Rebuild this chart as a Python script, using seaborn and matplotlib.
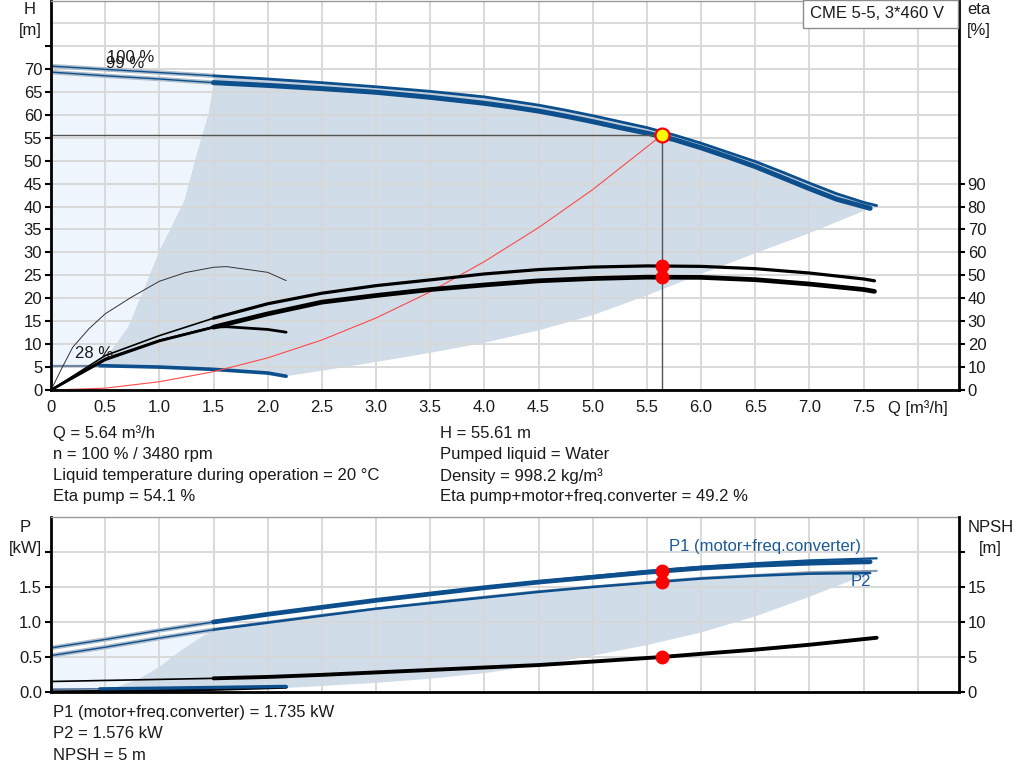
import numpy as np
import matplotlib
matplotlib.use("Agg")
import matplotlib.pyplot as plt
import matplotlib.patheffects as pe
from matplotlib.patches import Rectangle
import seaborn as sns

# ---------------- data ----------------
# Head curves, 100 % and 99 % speed
Q_H100 = [0, 0.5, 1.0, 1.5, 2.0, 2.5, 3.0, 3.5, 4.0, 4.25, 4.5, 4.75, 5.0, 5.25, 5.5, 5.75,
          6.0, 6.25, 6.5, 6.75, 7.0, 7.25, 7.5, 7.62]
H_100 = [70.6, 69.9, 69.2, 68.5, 67.8, 67.0, 66.1, 65.1, 63.9, 63.0, 62.1, 61.0, 59.8, 58.5,
         57.2, 55.6, 53.8, 51.8, 49.8, 47.5, 45.1, 42.8, 40.9, 40.2]
Q_H99 = [0, 0.5, 1.0, 1.5, 2.0, 2.5, 3.0, 3.5, 4.0, 4.25, 4.5, 4.75, 5.0, 5.25, 5.5, 5.75,
         6.0, 6.25, 6.5, 6.75, 7.0, 7.25, 7.56]
H_99 = [69.3, 68.5, 67.8, 67.0, 66.4, 65.7, 64.9, 63.8, 62.5, 61.7, 60.8, 59.7, 58.5, 57.2,
        56.0, 54.6, 52.8, 50.8, 48.7, 46.3, 43.9, 41.6, 39.6]
# Head curve at minimum speed (28 %)
Q_Hmin = [0, 0.45, 1.0, 1.5, 2.0, 2.17]
H_min = [5.3, 5.3, 5.0, 4.5, 3.7, 3.0]
# Efficiency curves [%]
Q_eta = [0, 0.5, 1.0, 1.5, 2.0, 2.5, 3.0, 3.5, 4.0, 4.5, 5.0, 5.5, 6.0, 6.5, 7.0, 7.5, 7.6]
eta_pump = [0, 15.0, 23.7, 31.3, 37.6, 42.2, 45.5, 48.0, 50.6, 52.5, 53.6, 54.1, 53.9, 52.9,
            51.0, 48.4, 47.6]
eta_total = [0, 13.6, 21.6, 27.4, 33.2, 38.3, 41.2, 43.8, 45.8, 47.6, 48.6, 49.2, 49.1, 48.1,
             46.2, 43.8, 43.0]
Q_eta_min = [0, 0.1, 0.2, 0.35, 0.5, 0.74, 1.0, 1.24, 1.5, 1.62, 2.0, 2.17]
eta_pump_min = [0, 9.5, 18.6, 26.7, 33.2, 40.4, 47.4, 51.2, 53.5, 53.8, 51.3, 47.7]
Q_etat_min = [0, 0.5, 1.0, 1.5, 1.62, 2.0, 2.17]
eta_total_min = [0, 13.2, 21.4, 27.4, 27.6, 26.4, 25.2]
# System curve
Q_sys = [0, 0.5, 1.0, 1.5, 2.0, 2.5, 3.0, 3.5, 4.0, 4.5, 5.0, 5.64]
H_sys = [0, 0.4, 1.8, 4.0, 7.0, 10.9, 15.7, 21.4, 28.0, 35.4, 43.7, 55.61]
# Operating range boundaries (upper chart)
Q_area_low = [2.17, 2.5, 3.0, 3.5, 4.0, 4.5, 5.0, 5.5, 6.0, 6.5, 7.0, 7.56]
H_area_low = [3.0, 4.2, 6.1, 8.1, 10.3, 13.0, 16.3, 20.6, 25.3, 29.8, 34.2, 39.6]
Q_area_left = [0.45, 0.58, 0.71, 0.875, 1.0, 1.12, 1.23, 1.35, 1.45, 1.5]
H_area_left = [5.3, 9.5, 13.7, 23.1, 30.4, 36.0, 41.4, 52.0, 60.0, 67.0]
# Power curves [kW]
Q_P = [0, 0.5, 1.0, 1.5, 2.0, 2.5, 3.0, 3.5, 4.0, 4.5, 5.0, 5.5, 6.0, 6.5, 7.0, 7.56]
P1 = [0.63, 0.75, 0.88, 1.00, 1.11, 1.21, 1.31, 1.40, 1.49, 1.57, 1.64, 1.71, 1.77, 1.81, 1.84, 1.86]
P2 = [0.52, 0.64, 0.77, 0.89, 0.99, 1.09, 1.19, 1.27, 1.35, 1.43, 1.50, 1.56, 1.62, 1.66, 1.69, 1.70]
Q_Phi = [1.5, 2.5, 3.5, 4.5, 5.5, 6.0, 6.5, 7.0, 7.62]
P1_hi = [1.01, 1.22, 1.41, 1.58, 1.73, 1.79, 1.84, 1.88, 1.91]
P2_hi = [0.90, 1.10, 1.28, 1.44, 1.57, 1.63, 1.67, 1.71, 1.73]
Q_Pmin = [0, 0.45, 1.0, 1.5, 2.17]
P1_min = [0.04, 0.045, 0.055, 0.065, 0.08]
P_black_min = [0.0, 0.005, 0.02, 0.04, 0.07]
# NPSH [m]
Q_N = [0, 1.5, 2.0, 2.5, 3.0, 3.5, 4.0, 4.5, 5.0, 5.64, 6.0, 6.5, 7.0, 7.62]
NPSH = [1.5, 1.95, 2.15, 2.45, 2.8, 3.15, 3.5, 3.85, 4.35, 5.0, 5.45, 6.05, 6.75, 7.75]
# Operating range boundaries (lower chart)
Q_parea_low = [0.45, 1.5, 2.2, 3.0, 3.5, 4.0, 4.5, 5.0, 5.5, 6.0, 6.5, 7.0, 7.56]
P_area_low = [0.0, 0.01, 0.06, 0.13, 0.19, 0.27, 0.38, 0.52, 0.67, 0.85, 1.08, 1.36, 1.70]
Q_parea_left = [0.45, 0.6, 0.8, 1.0, 1.2, 1.4, 1.5]
P_area_left = [0.0, 0.07, 0.18, 0.36, 0.6, 0.8, 0.89]
# Duty point
Q_duty = 5.64
H_duty = 55.61
eta_pump_duty = 54.1
eta_total_duty = 49.2
P1_duty = 1.735
P2_duty = 1.576
NPSH_duty = 5.0

x_ticks = [0, 0.5, 1.0, 1.5, 2.0, 2.5, 3.0, 3.5, 4.0, 4.5, 5.0, 5.5, 6.0, 6.5, 7.0, 7.5, 8.0]
x_labels = ["0", "0.5", "1.0", "1.5", "2.0", "2.5", "3.0", "3.5", "4.0", "4.5", "5.0",
            "5.5", "6.0", "6.5", "7.0", "7.5", ""]
H_ticks = [0, 5, 10, 15, 20, 25, 30, 35, 40, 45, 50, 55, 60, 65, 70, 75]
H_labels = ["0", "5", "10", "15", "20", "25", "30", "35", "40", "45", "50", "55", "60", "65", "70", ""]
eta_ticks = [0, 10, 20, 30, 40, 50, 60, 70, 80, 90]
P_ticks = [0, 0.5, 1.0, 1.5, 2.0]
P_labels = ["0.0", "0.5", "1.0", "1.5", ""]
N_ticks = [0, 5, 10, 15, 20]
N_labels = ["0", "5", "10", "15", ""]

# ---------------- style ----------------
sns.set_style("white")
plt.rcParams["font.family"] = ["Liberation Sans", "DejaVu Sans"]
plt.rcParams["font.size"] = 12

BLUE = "#0c4f8c"
HALO = "#aebccb"
LIGHT = "#eef5fc"
DARK = "#d0dce8"
GRID = "#d7d7d7"
TXT = "#1a1a1a"

W, Hpx = 1024, 781
fig = plt.figure(figsize=(W / 100, Hpx / 100), dpi=100)


def fx(x):
    return x / W


def fy(y):
    return 1 - y / Hpx


ax_h = fig.add_axes([fx(51), fy(390), (959 - 51) / W, (390 - 1) / Hpx])
ax_e = ax_h.twinx()
ax_p = fig.add_axes([fx(51), fy(692), (959 - 51) / W, (692 - 517) / Hpx])
ax_n = ax_p.twinx()

XMAX = 8.38


def line(ax, q, v, lo=None, hi=None, **kw):
    q = np.asarray(q, float)
    v = np.asarray(v, float)
    m = np.ones(len(q), bool)
    if lo is not None:
        m &= q >= lo - 1e-9
    if hi is not None:
        m &= q <= hi + 1e-9
    sns.lineplot(x=q[m], y=v[m], ax=ax, estimator=None, sort=False, legend=False, **kw)


halo = [pe.Stroke(linewidth=3.2, foreground=HALO), pe.Normal()]

# ---------- upper chart: fills ----------
qh99 = np.asarray(Q_H99); h99 = np.asarray(H_99)
qh100 = np.asarray(Q_H100); h100 = np.asarray(H_100)
qmin = np.asarray(Q_Hmin); hmin = np.asarray(H_min)
top_m = qh99 >= 1.5
min_m = qmin >= 0.45
poly_x = np.concatenate([qh99[top_m], Q_area_low[::-1], qmin[min_m][::-1], Q_area_left])
poly_y = np.concatenate([h99[top_m], H_area_low[::-1], hmin[min_m][::-1], H_area_left])
ax_h.fill(poly_x, poly_y, color=DARK, lw=0, zorder=0.3)
light_x = np.concatenate([qmin[qmin <= 0.45], Q_area_left, qh99[qh99 <= 1.5][::-1]])
light_y = np.concatenate([hmin[qmin <= 0.45], H_area_left, h99[qh99 <= 1.5][::-1]])
ax_h.fill(light_x, light_y, color=LIGHT, lw=0, zorder=0.3)

# light band between the 100 % and 99 % curves (full-range part)
band_x = np.concatenate([qh100[qh100 >= 1.5], qh99[top_m][::-1]])
band_y = np.concatenate([h100[qh100 >= 1.5], h99[top_m][::-1]])
ax_h.fill(band_x, band_y, color="#c3cfdb", lw=0, zorder=1.5)

# ---------- upper chart: head curves ----------
line(ax_h, Q_H100, H_100, hi=1.5, color=BLUE, lw=1.0, path_effects=halo)
line(ax_h, Q_H99, H_99, hi=1.5, color=BLUE, lw=1.0, path_effects=halo)
line(ax_h, Q_H100, H_100, lo=1.5, color=BLUE, lw=2.0)
line(ax_h, Q_H99, H_99, lo=1.5, color=BLUE, lw=3.6)
line(ax_h, Q_Hmin, H_min, hi=0.45, color="#6d86a3", lw=1.6)
line(ax_h, Q_Hmin, H_min, lo=0.45, color=BLUE, lw=2.6)
line(ax_h, Q_sys, H_sys, color="#ff4a4a", lw=0.8)

# crosshair
ax_h.plot([0, Q_duty], [H_duty, H_duty], color="#555555", lw=1.0, zorder=2.5)
ax_h.plot([Q_duty, Q_duty], [0, H_duty], color="#555555", lw=1.0, zorder=2.5)

# ---------- upper chart: efficiency ----------
line(ax_e, Q_eta, eta_pump, hi=1.5, color="black", lw=1.2)
line(ax_e, Q_eta, eta_total, hi=1.5, color="black", lw=1.6)
line(ax_e, Q_eta, eta_pump, lo=1.5, color="black", lw=2.3)
line(ax_e, Q_eta, eta_total, lo=1.5, color="black", lw=3.4)
line(ax_e, Q_eta_min, eta_pump_min, color="#333333", lw=0.7)
line(ax_e, Q_etat_min, eta_total_min, color="black", lw=2.0)

ax_e.plot([Q_duty, Q_duty], [eta_pump_duty, eta_total_duty], ls="none", marker="o",
          ms=9, color="#ff0000", mec="#ff0000", zorder=5)
ax_h.plot([Q_duty], [H_duty], ls="none", marker="o", ms=10, mfc="#ffff00", mec="#ff0000",
          mew=1.6, zorder=6)

# ---------- lower chart: fills ----------
qp = np.asarray(Q_P); p1 = np.asarray(P1); p2 = np.asarray(P2)
pdx = np.concatenate([qp[qp >= 1.5], Q_parea_low[::-1], Q_parea_left])
pdy = np.concatenate([p2[qp >= 1.5], P_area_low[::-1], P_area_left])
ax_p.fill(pdx, pdy, color=DARK, lw=0, zorder=0.3)
plx = np.concatenate([[0.0], Q_parea_left, qp[qp <= 1.5][::-1]])
ply = np.concatenate([[0.0], P_area_left, p2[qp <= 1.5][::-1]])
ax_p.fill(plx, ply, color=LIGHT, lw=0, zorder=0.3)

line(ax_p, Q_P, P1, hi=1.5, color=BLUE, lw=1.0, path_effects=halo)
line(ax_p, Q_P, P2, hi=1.5, color=BLUE, lw=1.0, path_effects=halo)
line(ax_p, Q_Phi, P1_hi, color=BLUE, lw=1.6)
line(ax_p, Q_P, P1, lo=1.5, color=BLUE, lw=3.4)
line(ax_p, Q_Phi, P2_hi, color="#8d9cae", lw=1.6)
line(ax_p, Q_P, P2, lo=1.5, color=BLUE, lw=1.8)
line(ax_p, Q_Pmin, P_black_min, color="black", lw=2.4)
line(ax_p, Q_Pmin, P1_min, hi=0.45, color="#4f6f95", lw=1.2)
line(ax_p, Q_Pmin, P1_min, lo=0.45, color=BLUE, lw=2.4)

line(ax_n, Q_N, NPSH, hi=1.5, color="black", lw=1.2)
line(ax_n, Q_N, NPSH, lo=1.5, color="black", lw=2.8)

ax_p.plot([Q_duty, Q_duty], [P1_duty, P2_duty], ls="none", marker="o", ms=9,
          color="#ff0000", zorder=5)
ax_n.plot([Q_duty], [NPSH_duty], ls="none", marker="o", ms=9, color="#ff0000", zorder=5)

# ---------- axes formatting ----------
TL = 4.3
for ax in (ax_h, ax_p):
    ax.set_xlim(0, XMAX)
    ax.set_xticks(x_ticks)
    ax.grid(True, color=GRID, lw=1.3)
    ax.set_axisbelow(True)
    ax.set_xlabel("")
    ax.set_ylabel("")
    for s in ("left", "bottom"):
        ax.spines[s].set_color("black")
        ax.spines[s].set_linewidth(2)
        ax.spines[s].set_visible(True)
    ax.spines["top"].set_color("#9a9a9a")
    ax.spines["top"].set_linewidth(1)
    ax.spines["top"].set_visible(True)
    ax.spines["right"].set_visible(False)
for ax in (ax_e, ax_n):
    ax.set_ylabel("")
    for s in ("left", "bottom", "top"):
        ax.spines[s].set_visible(False)
    ax.spines["right"].set_visible(True)
    ax.spines["right"].set_color("black")
    ax.spines["right"].set_linewidth(2)
    ax.tick_params(axis="y", direction="out", length=TL, width=1.5, colors="black",
                   labelcolor=TXT, labelsize=12, pad=2)

ax_h.set_ylim(0, 84.8)
ax_e.set_ylim(0, 169.6)
ax_h.axhline(80, color=GRID, lw=1.3, zorder=0.5)
ax_h.set_yticks(H_ticks)
ax_h.set_yticklabels(H_labels)
ax_h.set_xticklabels(x_labels)
ax_e.set_yticks(eta_ticks)
ax_e.set_yticklabels([str(t) for t in eta_ticks])
ax_h.tick_params(axis="both", direction="out", length=TL, width=1.5, colors="black",
                 labelcolor=TXT, labelsize=12, pad=2)
ax_h.tick_params(axis="x", pad=3)

ax_p.set_ylim(0, 2.5)
ax_n.set_ylim(0, 25)
ax_p.set_yticks(P_ticks)
ax_p.set_yticklabels(P_labels)
ax_n.set_yticks(N_ticks)
ax_n.set_yticklabels(N_labels)
ax_p.set_xticklabels([])
ax_p.tick_params(axis="x", length=0)
ax_p.tick_params(axis="y", direction="out", length=TL, width=1.5, colors="black",
                 labelcolor=TXT, labelsize=12, pad=2)

# ---------- texts ----------
def t(x, y, s, **kw):
    kw.setdefault("color", TXT)
    kw.setdefault("fontsize", 12)
    kw.setdefault("va", "center")
    fig.text(fx(x), fy(y), s, **kw)


t(30, 10, "H", ha="center")
t(30, 30, "[m]", ha="center")
t(979, 10, "eta", ha="center")
t(979, 31, "[%]", ha="center")
t(25, 527, "P", ha="center")
t(25, 548, "[kW]", ha="center")
t(991, 527, "NPSH", ha="center")
t(990, 548, "[m]", ha="center")
t(888, 408, "Q [m³/h]", ha="left")

t(107, 57, "100 %", ha="left")
t(106, 64, "99 %", ha="left")
t(75, 353, "28 %", ha="left")

t(669, 547, "P1 (motor+freq.converter)", ha="left", color="#1c5a96")
t(851, 582, "P2", ha="left", color="#1c5a96")

# model box in the top-right corner
fig.patches.append(Rectangle((fx(803), fy(28)), (958 - 803) / W, 28 / Hpx,
                             transform=fig.transFigure, fc="white", ec="#8c8c8c",
                             lw=1, zorder=10))
fig.text(fx(810), fy(14), "CME 5-5, 3*460 V", ha="left", va="center", fontsize=12,
         color=TXT, zorder=11)

left_lines = ["Q = 5.64 m³/h", "n = 100 % / 3480 rpm",
              "Liquid temperature during operation = 20 °C", "Eta pump = 54.1 %"]
right_lines = ["H = 55.61 m", "Pumped liquid = Water", "Density = 998.2 kg/m³",
               "Eta pump+motor+freq.converter = 49.2 %"]
ys = [433, 455, 476, 497]
for y, a, b in zip(ys, left_lines, right_lines):
    t(53, y, a, ha="left")
    t(440, y, b, ha="left")
for y, s in zip([713, 734, 755], ["P1 (motor+freq.converter) = 1.735 kW",
                                   "P2 = 1.576 kW", "NPSH = 5 m"]):
    t(53, y, s, ha="left")

fig.savefig("out.png", dpi=100)
